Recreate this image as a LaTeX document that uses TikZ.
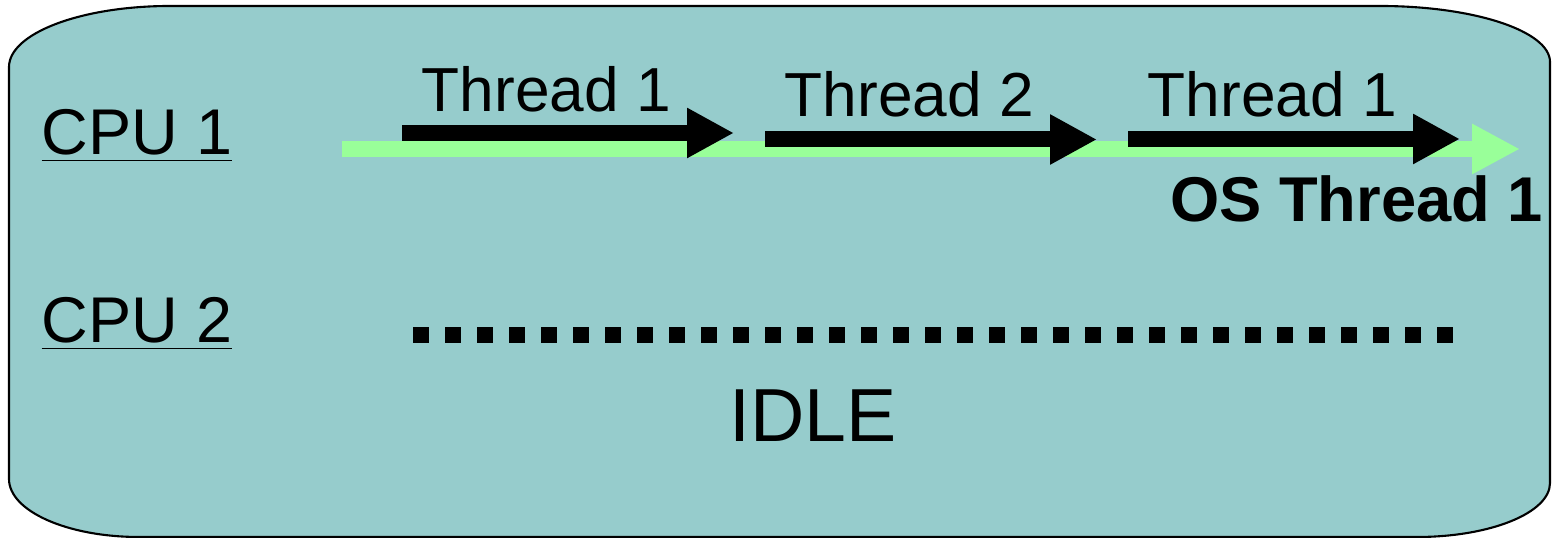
\documentclass[tikz,border=0pt]{standalone}
\usepackage{xcolor}
\usepackage{fontspec}
\setmainfont{Liberation Sans}
\usepackage{tikz}
\usetikzlibrary{arrows,arrows.meta,positioning}
\definecolor{slabcyan}{HTML}{96CCCC}
\definecolor{osgreen}{HTML}{99FF99}
\tikzset{
  threadarrow/.style={line width=0.16cm, black, -{Triangle[length=0.47cm, width=0.47cm]}},
  osarrow/.style={line width=0.16cm, osgreen, -{Triangle[length=0.48cm, width=0.47cm]}},
  threadlabel/.style={inner sep=0, anchor=base west, font=\fontsize{17.7}{20}\selectfont},
  cpulabel/.style={inner sep=0, anchor=base west, font=\fontsize{18.4}{20}\selectfont}
}

\begin{document}
\begin{tikzpicture}
        \useasboundingbox (0,0) rectangle (15.53,-5.38);
        % Background slab with rounded ends
        \draw[line width=0.6pt, fill=slabcyan] (0.09,-0.67) arc[start angle=180, end angle=90, x radius=1.61, y radius=0.61]
            -- (13.80,-0.06) arc[start angle=90, end angle=0, x radius=1.70, y radius=0.56]
            -- (15.50,-4.83) arc[start angle=0, end angle=-90, x radius=1.33, y radius=0.54]
            -- (1.39,-5.37) arc[start angle=270, end angle=180, x radius=1.30, y radius=0.58] -- cycle;

        % CPU labels
        \node[cpulabel] (cpu1) at (0.41,-1.55) {\underline{CPU 1}};
        \node[cpulabel] (cpu2) at (0.41,-3.43) {\underline{CPU 2}};

        % OS thread on CPU 1
        \coordinate (os start) at (3.42,-1.49);
        \coordinate (os end) at (15.20,-1.49);
        \draw[osarrow] (os start) -- (os end);
        \node[inner sep=0, anchor=base west, font=\fontsize{18}{20}\selectfont\bfseries] (oslabel) at (11.695,-2.22) {OS Thread 1};

        % User threads scheduled on top
        \coordinate (t1 start) at (4.02,-1.33);
        \coordinate (t1 end) at (7.34,-1.33);
        \coordinate (t2 start) at (7.65,-1.395);
        \coordinate (t2 end) at (10.97,-1.395);
        \coordinate (t3 start) at (11.28,-1.39);
        \coordinate (t3 end) at (14.60,-1.39);
        \draw[threadarrow] (t1 start) -- (t1 end);
        \draw[threadarrow] (t2 start) -- (t2 end);
        \draw[threadarrow] (t3 start) -- (t3 end);
        \node[threadlabel] (t1label) at (4.21,-1.12) {Thread 1};
        \node[threadlabel] (t2label) at (7.84,-1.17) {Thread 2};
        \node[threadlabel] (t3label) at (11.47,-1.17) {Thread 1};

        % CPU 2 sits idle
        \coordinate (idle start) at (4.13,-3.35);
        \coordinate (idle end) at (14.53,-3.35);
        \draw[line width=0.16cm, dash pattern=on 0.16cm off 0.16cm] (idle start) -- (idle end);
        \node[inner sep=0, anchor=base west, font=\fontsize{21.4}{24}\selectfont] (idle) at (7.29,-4.42) {IDLE};
\end{tikzpicture}
\end{document}
